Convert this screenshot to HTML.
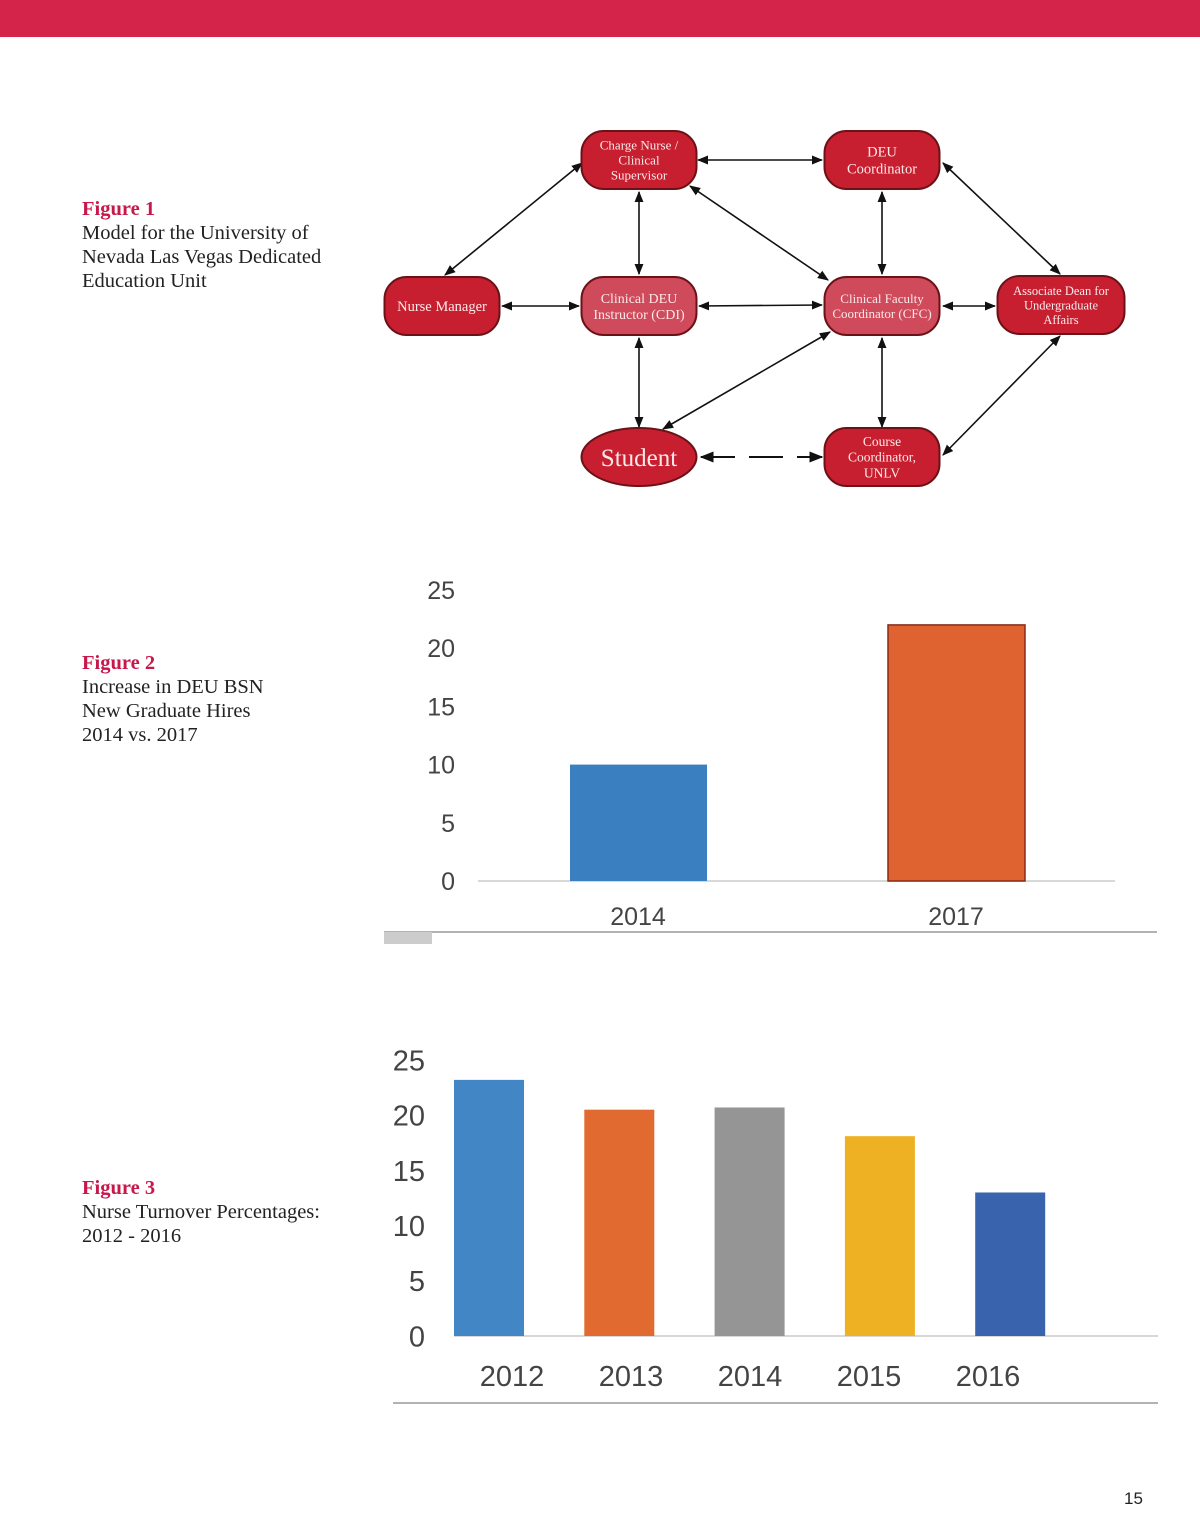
<!DOCTYPE html>
<html><head><meta charset="utf-8"><style>
body{margin:0;background:#fff;}
#page{position:relative;width:1200px;height:1540px;overflow:hidden;background:#fff;font-family:"Liberation Serif",serif;}
.cap{position:absolute;left:82px;font-size:20.5px;line-height:24px;color:#222;}
.cap b{color:#c8174a;font-weight:bold;}
</style></head><body>
<div id="page">
<div style="position:absolute;left:0;top:0;width:1200px;height:37px;background:#d4244a"></div>
<div class="cap" style="top:197px"><b>Figure 1</b><br>Model for the University of<br>Nevada Las Vegas Dedicated<br>Education Unit</div>
<div class="cap" style="top:651px"><b>Figure 2</b><br>Increase in DEU BSN<br>New Graduate Hires<br>2014 vs. 2017</div>
<div class="cap" style="top:1176px"><b>Figure 3</b><br>Nurse Turnover Percentages:<br>2012 - 2016</div>
<div style="position:absolute;left:1124px;top:1489px;font:17px 'Liberation Sans',sans-serif;color:#222">15</div>

<svg width="1200" height="1540" style="position:absolute;left:0;top:0" id="svg">
<defs>
<marker id="ah" viewBox="0 0 10 10" refX="9" refY="5" markerWidth="7" markerHeight="7" orient="auto-start-reverse"><path d="M0,1 L10,5 L0,9 z" fill="#111"/></marker>
</defs>
<g id="diagram"></g>
<g id="chart2"></g>
<g id="chart3"></g>
</svg>
</div>
<script>
// Figure 2 data
const hiresCategories = ["2014", "2017"];
const hiresValues = [10, 22];
const hiresColors = ["#3a7fbf", "#df6330"];
const hiresTicks = [0, 5, 10, 15, 20, 25];
// Figure 3 data
const turnoverCategories = ["2012", "2013", "2014", "2015", "2016"];
const turnoverValues = [23.2, 20.5, 20.7, 18.1, 13.0];
const turnoverColors = ["#4386c6", "#e06a30", "#959595", "#efb124", "#3a63ad"];
const turnoverTicks = [0, 5, 10, 15, 20, 25];

const NS = "http://www.w3.org/2000/svg";
function mk(tag, attrs, parent){const e=document.createElementNS(NS,tag);for(const k in attrs)e.setAttribute(k,attrs[k]);parent.appendChild(e);return e;}

const dg=document.getElementById('diagram');
const nodes=[
 {id:'cn',x:639,y:160,lines:['Charge Nurse /','Clinical','Supervisor'],fs:13,name:'charge-nurse-node'},
 {id:'deu',x:882,y:160,lines:['DEU','Coordinator'],fs:14.5,name:'deu-coordinator-node'},
 {id:'nm',x:442,y:306,lines:['Nurse Manager'],fs:14.5,name:'nurse-manager-node'},
 {id:'cdi',x:639,y:306,lines:['Clinical DEU','Instructor (CDI)'],fs:14,light:1,name:'cdi-node'},
 {id:'cfc',x:882,y:306,lines:['Clinical Faculty','Coordinator (CFC)'],fs:13,light:1,name:'cfc-node'},
 {id:'ad',x:1061,y:305,lines:['Associate Dean for','Undergraduate','Affairs'],fs:12.5,w:127,name:'associate-dean-node'},
 {id:'st',x:639,y:457,lines:['Student'],fs:25,ell:1,name:'student-node'},
 {id:'cc',x:882,y:457,lines:['Course','Coordinator,','UNLV'],fs:13.5,name:'course-coordinator-node'}
];
const edges=[[582,163,445,275],[698,160,822,160],[639,192,639,274],[690,186,828,280],[882,192,882,274],[943,163,1060,274],
 [502,306,579,306],[699,306,822,305],[943,306,995,306],[639,338,639,427],[830,332,663,429],[882,338,882,427],[1060,336,943,455]];
edges.forEach(e=>{const l=mk('line',{x1:e[0],y1:e[1],x2:e[2],y2:e[3],stroke:'#111','stroke-width':1.6,'marker-start':'url(#ah)','marker-end':'url(#ah)'},dg);

});
const dl=mk('line',{x1:701,y1:457,x2:822,y2:457,stroke:'#111','stroke-width':2,'stroke-dasharray':'34 14','marker-start':'url(#ah)','marker-end':'url(#ah)'},dg);


nodes.forEach(n=>{const w=n.w||115,h=58;const g=mk('g',{},dg);


const fill=n.light?'#cf4a5a':'#c81f30';
if(n.ell)mk('ellipse',{cx:n.x,cy:n.y,rx:w/2,ry:h/2,fill:fill,stroke:'#6b1218','stroke-width':2},g);
else mk('rect',{x:n.x-w/2,y:n.y-h/2,width:w,height:h,rx:22,fill:fill,stroke:'#6b1218','stroke-width':2},g);
const lh=n.fs*1.15;const y0=n.y-(n.lines.length-1)*lh/2+n.fs*0.35;
n.lines.forEach((t,i)=>{const tx=mk('text',{x:n.x,y:y0+i*lh,'text-anchor':'middle','font-family':'Liberation Serif, serif','font-size':n.fs,fill:'#fbe9ea'},g);tx.textContent=t;});
});

function barChart(gid,cats,vals,cols,ticks,o){
 const g=document.getElementById(gid);
 const y=v=>o.base-(v/25)*(o.base-o.top);
 ticks.forEach(t=>{const tx=mk('text',{x:o.tickX,y:y(t)+o.fs*0.36,'text-anchor':'end','font-family':'Liberation Sans, sans-serif','font-size':o.fs,fill:'#444'},g);tx.textContent=t;
 
 });
 mk('line',{x1:o.ax1,y1:o.base,x2:o.ax2,y2:o.base,stroke:'#ccc','stroke-width':1.5},g);
 cats.forEach((c,i)=>{const x0=o.x0+i*o.step;
  const r=mk('rect',{x:x0,y:y(vals[i]),width:o.bw,height:o.base-y(vals[i]),fill:cols[i],stroke:o.stroke&&o.stroke[i]||'none','stroke-width':1.5},g);
  
  
  const tx=mk('text',{x:o.lx0+i*o.lstep,y:o.lblY,'text-anchor':'middle','font-family':'Liberation Sans, sans-serif','font-size':o.lfs,fill:'#444'},g);tx.textContent=c;
  
  });
 mk('line',{x1:o.b1,y1:o.bl,x2:o.b2,y2:o.bl,stroke:'#999','stroke-width':1.5},g);
}
barChart('chart2',hiresCategories,hiresValues,hiresColors,hiresTicks,{base:881,top:590,tickX:455,fs:25,ax1:478,ax2:1115,x0:570,step:318,bw:137,lx0:638,lstep:318,lblY:925,lfs:25,b1:384,b2:1157,bl:932,stroke:[null,'#8a2a15']});
mk('rect',{x:384,y:932,width:48,height:12,fill:'#ccc'},document.getElementById('chart2'));
barChart('chart3',turnoverCategories,turnoverValues,turnoverColors,turnoverTicks,{base:1336,top:1060,tickX:425,fs:29,ax1:454,ax2:1158,x0:454,step:130.3,bw:70,lx0:512,lstep:119,lblY:1386,lfs:29,b1:393,b2:1158,bl:1403});
</script>
</body></html>
